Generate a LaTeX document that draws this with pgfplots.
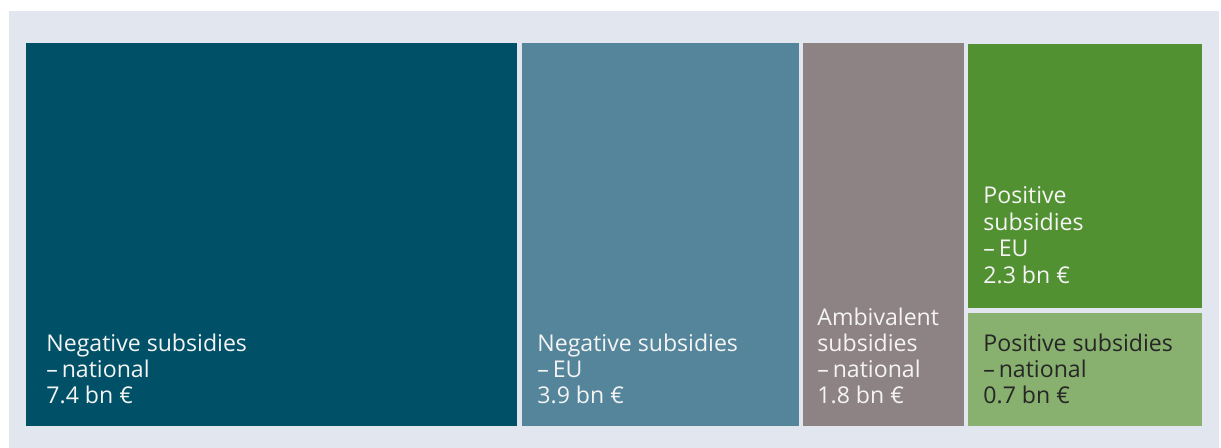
\documentclass[border=0pt]{standalone}
\usepackage{fontspec}
\setmainfont{Open Sans}
\usepackage{pgfplots}
\pgfplotsset{compat=1.18}
\definecolor{bgc}{HTML}{E2E6EE}
\definecolor{negnat}{HTML}{005168}
\definecolor{negeu}{HTML}{55859B}
\definecolor{amb}{HTML}{8E8384}
\definecolor{poseu}{HTML}{529131}
\definecolor{posnat}{HTML}{88B06E}
\definecolor{darktxt}{HTML}{262626}
\definecolor{lighttxt}{HTML}{F4F4F4}
\tikzset{lbl/.style={anchor=base west,inner sep=0pt,text=lighttxt,font=\fontsize{11.55}{13}\selectfont},
  dlbl/.style={anchor=base west,inner sep=0pt,text=darktxt,font=\fontsize{11.55}{13}\selectfont}}
\begin{document}
\begin{tikzpicture}
\begin{axis}[x=0.5pt,y=0.5pt,xmin=0,xmax=1221,ymin=0,ymax=448,y dir=reverse,
  hide axis, clip=true, ticks=none]
\addplot[fill=white,draw=none] coordinates {(0,0)(1221,0)(1221,448)(0,448)} -- cycle;
\addplot[fill=bgc,draw=none] coordinates {(9,11)(1219,11)(1219,448)(9,448)} -- cycle;
% treemap tiles (x0,y0)-(x1,y1) in pixels
\addplot[fill=negnat,draw=none] coordinates {(26,43)(517,43)(517,426.5)(26,426.5)} -- cycle;   % 7.4
\addplot[fill=negeu,draw=none] coordinates {(522,43)(799,43)(799,426.5)(522,426.5)} -- cycle;  % 3.9
\addplot[fill=amb,draw=none] coordinates {(803,43)(964,43)(964,426.5)(803,426.5)} -- cycle;    % 1.8
\addplot[fill=poseu,draw=none] coordinates {(968,44)(1202,44)(1202,308.5)(968,308.5)} -- cycle;% 2.3
\addplot[fill=posnat,draw=none] coordinates {(968,313)(1202,313)(1202,426.5)(968,426.5)} -- cycle;% 0.7
% labels
\node[lbl] at (axis cs:46,352) {Negative subsidies};
\node[lbl] at (axis cs:46,378) {–\,national};
\node[lbl] at (axis cs:46,404) {7.4 bn €};
\node[lbl] at (axis cs:537,352) {Negative subsidies};
\node[lbl] at (axis cs:537,378) {–\,EU};
\node[lbl] at (axis cs:537,404) {3.9 bn €};
\node[lbl] at (axis cs:817,326) {Ambivalent};
\node[lbl] at (axis cs:817,352) {subsidies};
\node[lbl] at (axis cs:817,378) {–\,national};
\node[lbl] at (axis cs:817,404) {1.8 bn €};
\node[lbl] at (axis cs:983,204) {Positive};
\node[lbl] at (axis cs:983,230.5) {subsidies};
\node[lbl] at (axis cs:983,257) {–\,EU};
\node[lbl] at (axis cs:983,283.5) {2.3 bn €};
\node[dlbl] at (axis cs:983,352) {Positive subsidies};
\node[dlbl] at (axis cs:983,378) {–\,national};
\node[dlbl] at (axis cs:983,404) {0.7 bn €};
\end{axis}
\end{tikzpicture}
\end{document}
